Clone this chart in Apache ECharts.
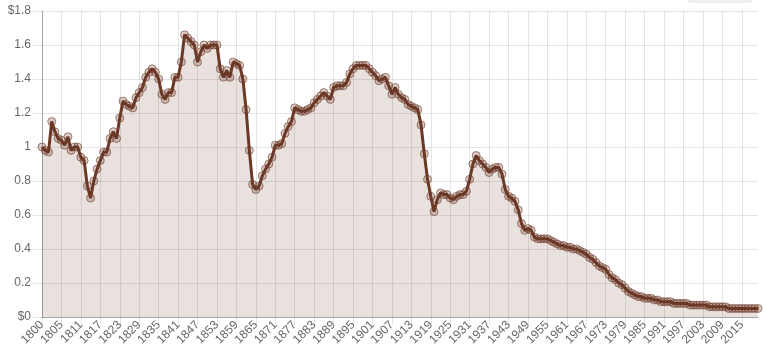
<!DOCTYPE html>
<html>
<head>
<meta charset="utf-8">
<script src="https://cdn.jsdelivr.net/npm/echarts@6/dist/echarts.min.js"></script>
<style>
    html, body { margin: 0; padding: 0; background: #fff; }
    #chart { width: 765px; height: 353px; }
</style>
</head>
<body>
<div id="chart"></div>
<script>
// first tick is 1800, after that one point per year up to 2020
let years = ['1800'];
for (let y = 1800; y <= 2020; y++) {
    years.push(String(y));
}

const valuesEarly = [
    1.00, 0.98, 0.97, 1.15, 1.09, 1.05, 1.04, 1.01, 1.06, 0.98,
    1.00, 1.00, 0.94, 0.92, 0.77, 0.70, 0.80, 0.87, 0.92, 0.97,
    0.97, 1.05, 1.09, 1.05, 1.17, 1.27, 1.25, 1.24, 1.23, 1.29,
    1.32, 1.35, 1.41, 1.44, 1.46, 1.44, 1.40, 1.31, 1.28, 1.32,
    1.32, 1.41, 1.41, 1.50, 1.66, 1.64, 1.62, 1.60, 1.50, 1.56,
    1.60, 1.58, 1.60, 1.60, 1.60, 1.46, 1.41, 1.45, 1.41, 1.50,
    1.49, 1.48, 1.40, 1.22, 0.98, 0.78, 0.75, 0.77, 0.83, 0.87,
    0.90, 0.94, 1.01, 1.01, 1.02, 1.08, 1.12, 1.15, 1.23, 1.22,
    1.21, 1.21, 1.22, 1.23, 1.26, 1.28, 1.30, 1.32, 1.30, 1.28,
    1.35, 1.36, 1.36, 1.36, 1.38, 1.43, 1.46, 1.48, 1.48, 1.48,
    1.48, 1.46, 1.44, 1.42, 1.39, 1.40, 1.41, 1.36, 1.31, 1.35,
    1.31, 1.29, 1.28, 1.25
];

// 1913 - 2020
const valuesModern = [
    1.24, 1.23, 1.22, 1.13, 0.96, 0.81, 0.71, 0.62, 0.69, 0.73,
    0.72, 0.72, 0.70, 0.69, 0.71, 0.72, 0.72, 0.74, 0.81, 0.90,
    0.95, 0.92, 0.90, 0.88, 0.85, 0.87, 0.88, 0.88, 0.84, 0.75,
    0.71, 0.70, 0.68, 0.63, 0.55, 0.51, 0.52, 0.51, 0.47, 0.46,
    0.46, 0.46, 0.46, 0.45, 0.44, 0.43, 0.42, 0.42, 0.41, 0.41,
    0.40, 0.40, 0.39, 0.38, 0.37, 0.35, 0.34, 0.32, 0.30, 0.29,
    0.28, 0.25, 0.23, 0.22, 0.20, 0.19, 0.17, 0.15, 0.14, 0.13,
    0.12, 0.12, 0.11, 0.11, 0.11, 0.10, 0.10, 0.09, 0.09, 0.09,
    0.09, 0.08, 0.08, 0.08, 0.08, 0.08, 0.07, 0.07, 0.07, 0.07,
    0.07, 0.07, 0.06, 0.06, 0.06, 0.06, 0.06, 0.06, 0.05, 0.05,
    0.05, 0.05, 0.05, 0.05, 0.05, 0.05, 0.05, 0.05
];

const yTicks = { min: 0, max: 1.8, interval: 0.2 };

const brown = '#6c3826';
const gridGrey = 'rgba(0,0,0,0.1)';
const axisGrey = 'rgba(0,0,0,0.28)';
const labelFont = {
    color: '#666',
    fontSize: 12,
    fontFamily: '"Liberation Sans", Arial, Helvetica, sans-serif'
};

function formatDollar(value) {
    if (value === yTicks.min || Math.abs(value - yTicks.max) < 1e-9) {
        return '$' + Number(value.toFixed(1));
    }
    return String(Number(value.toFixed(1)));
}

function createChart() {
    let chartDom = document.getElementById('chart');
    let myChart = echarts.init(chartDom, null, { renderer: 'canvas' });
    let option;

    let values = valuesEarly.concat(valuesModern);

    option = {
        animation: false,
        grid: {
            left: 42,
            right: 7,
            top: 11,
            bottom: 36
        },
        graphic: [
            {
                type: 'rect',
                shape: { x: 687, y: -10, width: 65, height: 13, r: 3 },
                style: { fill: '#eeeeee' }
            }
        ],
        xAxis: {
            type: 'category',
            boundaryGap: false,
            data: years,
            axisLine: { lineStyle: { color: axisGrey, width: 1 } },
            axisTick: {
                show: true,
                interval: 5,
                length: 8,
                lineStyle: { color: gridGrey }
            },
            axisLabel: {
                interval: 5,
                rotate: 45,
                margin: 6,
                ...labelFont
            },
            splitLine: {
                show: true,
                interval: 5,
                lineStyle: { color: gridGrey }
            }
        },
        yAxis: {
            type: 'value',
            min: yTicks.min,
            max: yTicks.max,
            interval: yTicks.interval,
            axisLine: { show: true, lineStyle: { color: axisGrey, width: 1 } },
            axisTick: {
                show: true,
                length: 9,
                lineStyle: { color: gridGrey }
            },
            axisLabel: {
                margin: 11,
                formatter: formatDollar,
                ...labelFont
            },
            splitLine: {
                show: true,
                lineStyle: { color: gridGrey }
            }
        },
        series: [
            {
                type: 'line',
                data: values,
                symbol: 'circle',
                symbolSize: 8,
                showAllSymbol: true,
                lineStyle: { color: brown, width: 3 },
                itemStyle: {
                    color: 'rgba(108,56,38,0.25)',
                    borderColor: 'rgba(108,56,38,0.6)',
                    borderWidth: 1
                },
                areaStyle: { color: 'rgba(111,62,40,0.22)' },
                z: 2
            }
        ]
    };

    option && myChart.setOption(option);
}

createChart();
</script>
</body>
</html>
